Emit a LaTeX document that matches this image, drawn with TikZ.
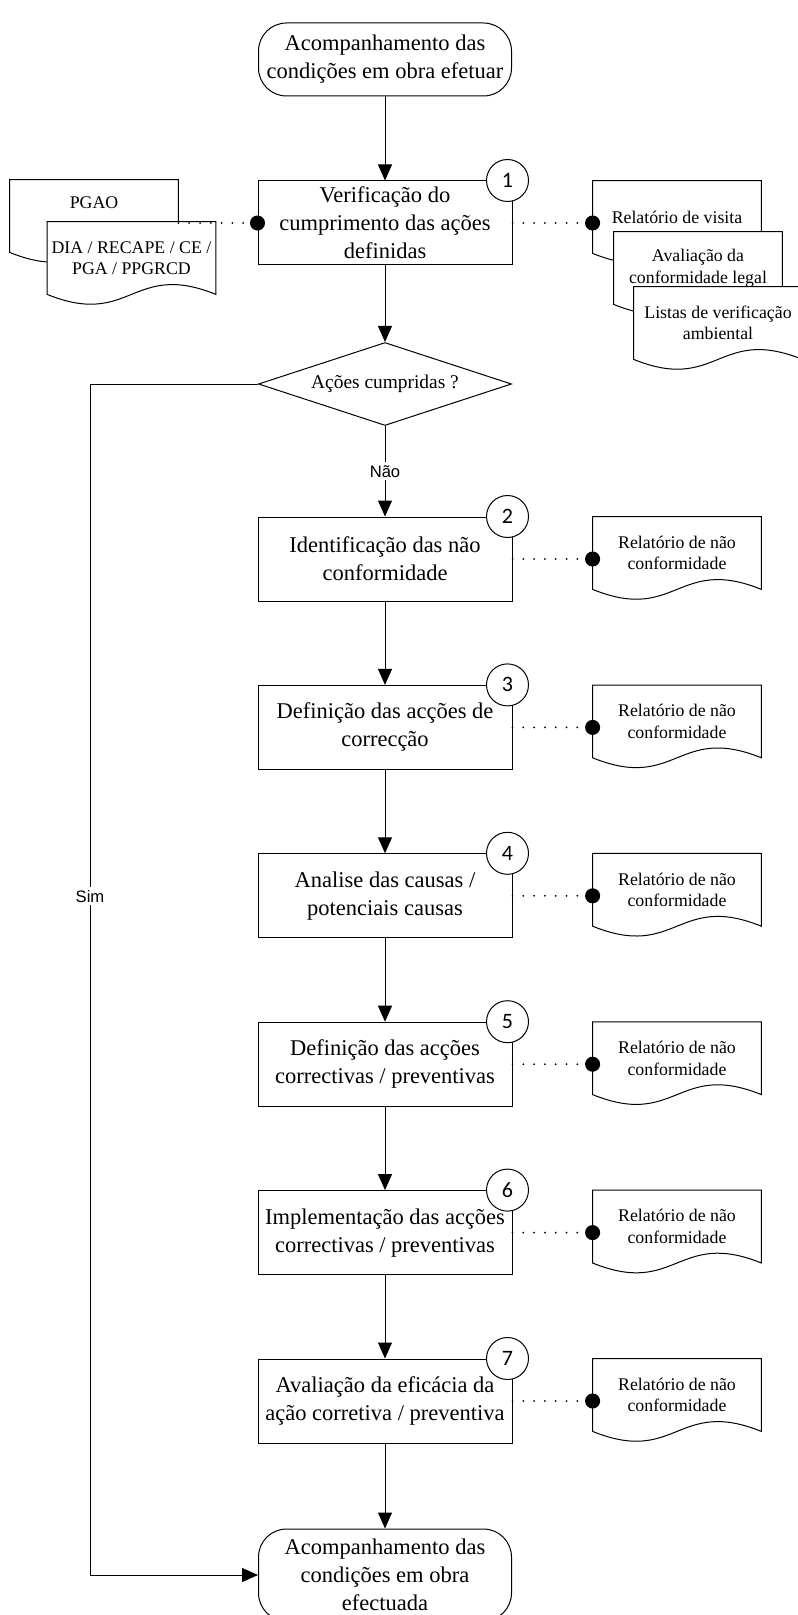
\documentclass[tikz,border=0pt]{standalone}
\usepackage{fontspec}
\setmainfont{Liberation Serif}
\newfontfamily\serifont{Liberation Serif}
\newfontfamily\arialfont{Liberation Sans}
\newfontfamily\numfont{Carlito}
\usetikzlibrary{calc}
\usetikzlibrary{arrows.meta}
\usetikzlibrary{shapes.geometric}

\tikzset{
  term/.style={draw, fill=white, line width=0.5pt, rounded corners=14pt, minimum width=126.5pt, minimum height=36.5pt, inner sep=0pt, align=center, font=\serifont\fontsize{11.25}{14}\selectfont},
  acao/.style={draw, fill=white, line width=0.5pt, minimum width=127pt, minimum height=42pt, inner sep=0pt, align=center, font=\serifont\fontsize{11.25}{14}\selectfont},
  decisao/.style={draw, fill=white, diamond, aspect=3.05, line width=0.5pt, minimum width=126.5pt, minimum height=41.5pt, inner sep=0pt, font=\serifont\fontsize{9.7}{12}\selectfont},
  num/.style={draw, fill=white, circle, line width=0.5pt, minimum size=21pt, inner sep=0pt, font=\numfont\fontsize{11}{13}\selectfont},
  doc/.style={minimum width=84pt, minimum height=36pt, inner sep=0pt, align=center, font=\serifont\fontsize{8.9}{10.8}\selectfont,
    append after command={\pgfextra{\begin{pgfinterruptpath}
      \filldraw[fill=white, draw=black, line width=0.5pt] (\tikzlastnode.north west) -- (\tikzlastnode.north east) -- (\tikzlastnode.south east)
        .. controls +(-42pt,17pt) and +(42pt,-17pt) .. (\tikzlastnode.south west) -- cycle;
    \end{pgfinterruptpath}}}},
  flow/.style={line width=0.5pt, -{Triangle[width=7pt,length=8pt]}},
  link/.style={line width=1pt, dash pattern=on 0pt off 5.4pt, line cap=round, -{Circle[length=7.5pt]}, shorten >=-3.75pt},
  rotulo/.style={fill=white, inner sep=1.5pt, font=\arialfont\fontsize{8.3}{10}\selectfont}
}

\begin{document}
\begin{tikzpicture}[x=0.5pt, y=-0.5pt]
\useasboundingbox (0,0) rectangle (797,1615);

% inicio e verificacao
\node[term] (inicio) at (385,59.5) {Acompanhamento das\\condições em obra efetuar};
\node[acao] (a1) at (385,223) {Verificação do\\cumprimento das ações\\definidas};
\node[num] (n1) at ($(a1.north east)+(-5,0)$) {1};
\node[decisao] (dec) at (385,384) {Ações cumpridas ?};

% documentos de entrada e saida
\node[doc] (pgao) at (94,216) {PGAO\\[3pt]\mbox{}};
\node[doc] (dia) at (131.5,258) {DIA / RECAPE / CE /\\PGA / PPGRCD};
\node[doc] (rv) at (677,217) {Relatório de visita};
\node[doc] (acl) at (698,268) {Avaliação da\\conformidade legal};
\node[doc] (lva) at (718,323) {Listas de verificação\\ambiental};
\draw[link] (pgao.east |- a1.west) -- (a1.west);
\draw[link] (a1.east) -- (rv.west |- a1.east);

% etapas 2 a 7
\foreach \i/\txt [count=\k from 0] in {2/{Identificação das não\\conformidade}, 3/{Definição das acções de\\correcção}, 4/{Analise das causas /\\potenciais causas}, 5/{Definição das acções\\correctivas / preventivas}, 6/{Implementação das acções\\correctivas / preventivas}, 7/{Avaliação da eficácia da\\ação corretiva / preventiva}} {
  \node[acao] (a\i) at (385,559+168.4*\k) {\txt};
  \node[num] (n\i) at ($(a\i.north east)+(-5,0)$) {\i};
  \node[doc] (r\i) at (677,553+168.4*\k) {Relatório de não\\conformidade};
  \draw[link] (a\i.east) -- (r\i.west |- a\i.east);
}

\node[term, minimum height=46pt] (fim) at (385,1575) {Acompanhamento das\\condições em obra\\efectuada};

% ligacoes
\draw[flow] (inicio) -- (a1);
\draw[flow] (a1) -- (dec);
\draw[flow] (dec) -- node[rotulo] {Não} (a2);
\foreach \i/\j in {2/3,3/4,4/5,5/6,6/7}
  \draw[flow] (a\i) -- (a\j);
\draw[flow] (a7) -- (fim);
\coordinate (sim) at (90,384);
\draw[flow] (dec.west) -- (sim) |- node[pos=0.215, rotulo] {Sim} (fim.west);
\end{tikzpicture}
\end{document}
